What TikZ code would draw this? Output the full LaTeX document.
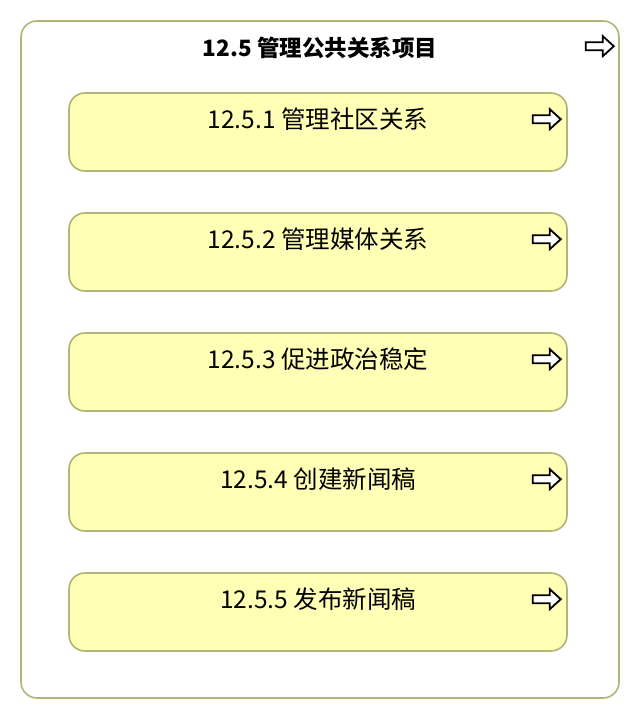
\documentclass[tikz,border=0pt]{standalone}
\usepackage{fontspec}
\setmainfont{Noto Sans CJK SC}
\usetikzlibrary{calc}
\definecolor{boxfill}{HTML}{FFFFB5}
\definecolor{boxline}{HTML}{B3B378}
\tikzset{
  arrowicon/.pic={\draw[line width=1.8pt,line join=miter,fill=white]
    (0,-4) -- (17,-4) -- (17,-10) -- (28,0) -- (17,10) -- (17,4) -- (0,4) -- cycle;},
  grpbox/.style={draw=boxline,line width=1.6pt,fill=white,rounded corners=16pt,
    minimum width=598pt,minimum height=677pt,inner sep=0pt},
  procbox/.style={draw=boxline,line width=1.6pt,fill=boxfill,rounded corners=16pt,
    minimum width=498pt,minimum height=78pt,inner sep=0pt,
    font=\fontsize{24.5}{28}\selectfont,text height=16pt,text depth=23pt}
}
\begin{document}
\begin{tikzpicture}[x=1pt,y=-1pt]
  \useasboundingbox (0,0) rectangle (640,720);
  \node[grpbox] (grp) at (320,359.5) {};
  \node[anchor=base,font=\fontsize{22.5}{26}\selectfont\bfseries] (grptitle)
    at ($(grp.north)+(0,36)$) {12.5 管理公共关系项目};
  \pic at ($(grp.north east)+(-34,26)$) {arrowicon};

  \node[procbox] (p1) at (318,132) {12.5.1 管理社区关系};
  \node[procbox] (p2) at (318,252) {12.5.2 管理媒体关系};
  \node[procbox] (p3) at (318,372) {12.5.3 促进政治稳定};
  \node[procbox] (p4) at (318,492) {12.5.4 创建新闻稿};
  \node[procbox] (p5) at (318,612) {12.5.5 发布新闻稿};
  \foreach \p in {p1,p2,p3,p4,p5}
    \pic at ($(\p.north east)+(-35,27)$) {arrowicon};
\end{tikzpicture}
\end{document}
